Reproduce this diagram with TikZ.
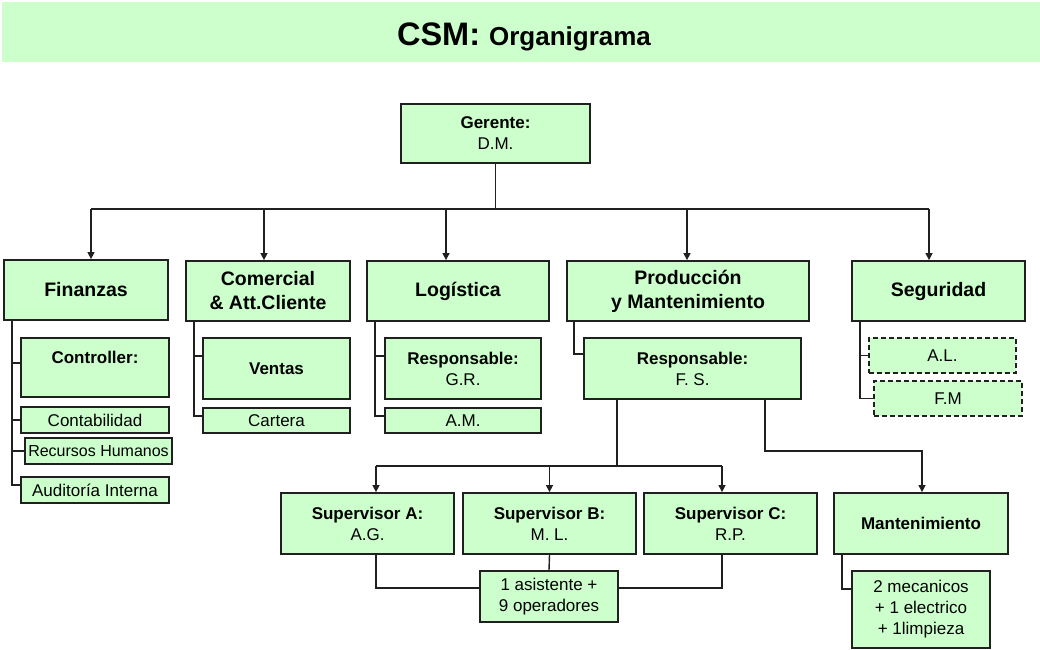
\documentclass[tikz,border=0pt]{standalone}
\usepackage{fontspec}
\setmainfont{Liberation Sans}
\usetikzlibrary{arrows.meta,calc}
\definecolor{boxgreen}{HTML}{CCFFCC}
\definecolor{edge}{HTML}{202020}
\begin{document}
\begin{tikzpicture}[x=1pt,y=-1pt,
  box/.style={draw=edge, line width=1.8pt, fill=boxgreen, inner sep=0pt, align=center,
              font=\fontsize{17}{21}\selectfont},
  head/.style={box, font=\fontsize{19.5}{24}\selectfont\bfseries},
  dashbox/.style={box, dash pattern=on 5pt off 3pt},
  link/.style={draw=edge, line width=1.4pt},
  arr/.style={link, -{Triangle[length=7pt,width=7pt]}}]
\useasboundingbox (0,0) rectangle (1040,649);

% title band
\node[fill=boxgreen, inner sep=0pt, minimum width=1038pt, minimum height=60pt] (band) at (521,32) {};
\node[anchor=base, inner sep=0pt] (title) at (524,45)
  {\bfseries\fontsize{32.5}{36}\selectfont CSM: \fontsize{26}{28}\selectfont Organigrama};

% top manager
\node[box, minimum width=189pt, minimum height=59pt] (ger) at (495.5,133.5) {\textbf{Gerente:}\\D.M.};

% departments
\node[head, minimum width=164pt, minimum height=60pt] (fin)  at (86,290)    {Finanzas};
\node[head, minimum width=164pt, minimum height=60pt] (com)  at (268,291)   {Comercial\\\& Att.Cliente};
\node[head, minimum width=182pt, minimum height=60pt] (log)  at (458,291)   {Logística};
\node[head, minimum width=242pt, minimum height=60pt] (prod) at (688,291)   {Producción\\y Mantenimiento};
\node[head, minimum width=173pt, minimum height=60pt] (seg)  at (938.5,291) {Seguridad};

% Finanzas units
\node[box, minimum width=148pt, minimum height=59pt] (ctrl)  at (95,367.5) {\textbf{Controller:}\\\phantom{G}};
\node[box, minimum width=148pt, minimum height=26pt] (conta) at (95,420)   {Contabilidad};
\node[box, minimum width=147pt, minimum height=26pt, font=\fontsize{16}{20}\selectfont] (rrhh) at (98.5,451) {Recursos Humanos};
\node[box, minimum width=148pt, minimum height=26pt] (audi)  at (95,490)   {Auditoría Interna};

% Comercial units
\node[box, minimum width=147pt, minimum height=61pt] (ventas)  at (276.5,368.5) {\textbf{Ventas}};
\node[box, minimum width=147pt, minimum height=25pt] (cartera) at (276.5,420.5) {Cartera};

% Logistica units
\node[box, minimum width=156pt, minimum height=61pt] (resgr) at (463,368.5) {\textbf{Responsable:}\\G.R.};
\node[box, minimum width=156pt, minimum height=25pt] (am)    at (463,420.5) {A.M.};

% Produccion units
\node[box, minimum width=217pt, minimum height=61pt] (resfs) at (692.5,368.5) {\textbf{Responsable:}\\F. S.};

% Seguridad units
\node[dashbox, minimum width=147pt, minimum height=35pt] (al) at (942.5,355.5) {A.L.};
\node[dashbox, minimum width=148pt, minimum height=35pt] (fm) at (948,398.5)   {F.M};

% supervisors and maintenance
\node[box, minimum width=173pt, minimum height=61pt] (supA) at (367.5,523.5) {\textbf{Supervisor A:}\\A.G.};
\node[box, minimum width=173pt, minimum height=61pt] (supB) at (549.5,523.5) {\textbf{Supervisor B:}\\M. L.};
\node[box, minimum width=173pt, minimum height=61pt] (supC) at (730.5,523.5) {\textbf{Supervisor C:}\\R.P.};
\node[box, minimum width=174pt, minimum height=61pt] (mant) at (921,523.5)   {\textbf{Mantenimiento}};
\node[box, minimum width=138pt, minimum height=51pt] (asis) at (549,596.5)   {1 asistente +\\9 operadores};
\node[box, minimum width=138pt, minimum height=77pt] (mstaff) at (921,609.5) {2 mecanicos\\+ 1 electrico\\+ 1limpieza};

% manager to departments
\coordinate (tFin)  at ([xshift=5pt]fin.north);
\coordinate (tCom)  at ([xshift=-4pt]com.north);
\coordinate (tLog)  at ([xshift=-12pt]log.north);
\coordinate (tProd) at ([xshift=-1pt]prod.north);
\coordinate (tSeg)  at ([xshift=-9.5pt]seg.north);
\coordinate (bus)   at ($(ger.south)+(0,45)$);
\draw[link] (ger.south) -- (bus);
\draw[link] (tFin |- bus) -- (tSeg |- bus);
\foreach \t in {tFin,tCom,tLog,tProd,tSeg}
  \draw[arr] (\t |- bus) -- (\t);

% Finanzas tree
\coordinate (finV) at ([xshift=9pt]fin.south west);
\draw[link] (finV) |- ([yshift=4.5pt]ctrl.west);
\draw[link] (finV) |- (conta.west);
\draw[link] (finV) |- (rrhh.west);
\draw[link] (finV) |- ([yshift=5pt]audi.west);

% Comercial tree
\coordinate (comV) at ([xshift=9pt]com.south west);
\draw[link] (comV) |- ([yshift=12.5pt]ventas.west);
\draw[link] (comV) |- ([yshift=4.5pt]cartera.west);

% Logistica tree
\coordinate (logV) at ([xshift=9pt]log.south west);
\draw[link] (logV) |- ([yshift=12.5pt]resgr.west);
\draw[link] (logV) |- ([yshift=4.5pt]am.west);

% Produccion tree
\coordinate (prodV) at ([xshift=8pt]prod.south west);
\draw[link] (prodV) |- ([yshift=14.5pt]resfs.west);

% Seguridad tree
\coordinate (segV) at ([xshift=9pt]seg.south west);
\draw[link] (segV) |- (al.west);
\draw[link] (segV) |- (fm.west);

% F.S. to supervisors
\coordinate (fsL) at ([xshift=34pt]resfs.south west);
\coordinate (fsR) at ([xshift=182pt]resfs.south west);
\coordinate (tA) at ([xshift=8.5pt]supA.north);
\coordinate (tB) at (supB.north);
\coordinate (tC) at ([xshift=-8.5pt]supC.north);
\coordinate (tM) at ([xshift=1pt]mant.north);
\coordinate (sbus) at ($(tB)+(0,-26)$);
\draw[link] (fsL) -- (fsL |- sbus);
\draw[link] (tA |- sbus) -- (tC |- sbus);
\foreach \t in {tA,tB,tC}
  \draw[arr] (\t |- sbus) -- (\t);
\draw[arr] (fsR) -- ++(0,51) -| (tM);

% supervisors to operators
\draw[link] ([xshift=8.5pt]supA.south) |- ([yshift=8.5pt]asis.west);
\draw[link] (supB.south) -- (asis.north);
\draw[link] ([xshift=-8.5pt]supC.south) |- ([yshift=8.5pt]asis.east);

% maintenance staff
\draw[link] ([xshift=9pt]mant.south west) |- ([yshift=20.5pt]mstaff.west);
\end{tikzpicture}
\end{document}
